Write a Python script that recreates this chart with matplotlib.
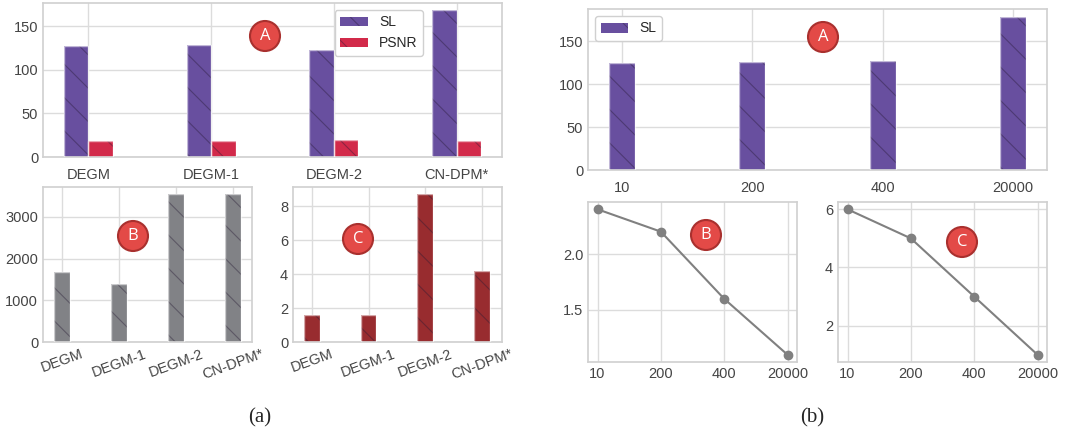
import numpy as np
import matplotlib
matplotlib.use("Agg")
import matplotlib.pyplot as plt
import seaborn as sns

# (a) method comparison
methods = ["DEGM", "DEGM-1", "DEGM-2", "CN-DPM*"]
sl_a = [127, 128.5, 123, 168]
psnr_a = [18.5, 18, 19, 18.5]
cost_b = [1680, 1400, 3540, 3540]
cost_c = [1.6, 1.6, 8.7, 4.2]

# (b) threshold study
sizes = ["10", "200", "400", "20000"]
sl_b = [124.5, 125.5, 127, 178.5]
curve_b = [2.4, 2.2, 1.6, 1.1]
curve_c = [6, 5, 3, 1]

sns.set_style("whitegrid")
plt.rcParams['font.family'] = ['Liberation Sans', 'DejaVu Sans']
plt.rcParams['hatch.linewidth'] = 0.8

W, H = 1083, 430
fig = plt.figure(figsize=(W / 100, H / 100), dpi=100)


def add_ax(x0, y0, x1, y1):
    # pixel box -> figure fraction
    return fig.add_axes([x0 / W, 1 - y1 / H, (x1 - x0) / W, (y1 - y0) / H])


def hatched_bar(ax, x, h, w, color, label=None):
    ax.bar(x, h, w, color=color, edgecolor=(0.15, 0.1, 0.2, 0.4), linewidth=0,
           hatch='\\', label=label, zorder=2)
    ax.bar(x, h, w, fill=False, edgecolor=(1, 1, 1, 0.6), linewidth=1, zorder=3)


def style(ax):
    ax.tick_params(labelsize=10.5, colors='#444444', length=0)
    for s in ax.spines.values():
        s.set_color('#d0d0d0')
        s.set_linewidth(1.2)
    ax.grid(color='#dcdcdc', linewidth=1)
    ax.set_axisbelow(True)


def badge(px, py, s):
    fig.text(px / W, 1 - py / H, s, ha='center', va='center', color='white',
             fontsize=12, family=['Open Sans', 'DejaVu Sans'],
             bbox=dict(boxstyle='circle,pad=0.42', fc='#e34a47', ec='#a9302e', lw=1.5))


purple = '#684f9f'
crimson = '#d22a4a'
gray = '#818286'
darkred = '#982c2f'

x = np.arange(len(methods))

# (a) A
ax = add_ax(43, 3, 502, 157)
hatched_bar(ax, x - 0.1, sl_a, 0.2, purple, 'SL')
hatched_bar(ax, x + 0.1, psnr_a, 0.2, crimson, 'PSNR')
ax.set_xticks(x)
ax.set_xticklabels(methods)
style(ax)
ax.tick_params(axis='x', pad=8)
ax.legend(loc='upper right', bbox_to_anchor=(0.828, 0.955), borderaxespad=0,
          fontsize=10, frameon=True, edgecolor='#d0d0d0', framealpha=1)

# (a) B
ax = add_ax(43, 187, 252, 342)
hatched_bar(ax, x, cost_b, 0.28, gray)
ax.set_xticks(x)
ax.set_xticklabels(methods, rotation=20)
ax.set_xlim(-0.33, 3.33)
style(ax)

# (a) C
ax = add_ax(293, 187, 502, 342)
hatched_bar(ax, x, cost_c, 0.28, darkred)
ax.set_xticks(x)
ax.set_xticklabels(methods, rotation=20)
ax.set_xlim(-0.33, 3.35)
style(ax)

# (b) A
xs = np.arange(len(sizes))
ax = add_ax(588, 9, 1047, 170)
hatched_bar(ax, xs, sl_b, 0.2, purple, 'SL')
ax.set_xticks(xs)
ax.set_xticklabels(sizes)
ax.set_yticks([0, 50, 100, 150])
style(ax)
ax.tick_params(axis='x', pad=8)
ax.legend(loc='upper left', fontsize=10, frameon=True, edgecolor='#d0d0d0', framealpha=1)

# (b) B
ax = add_ax(588, 202, 797, 362)
ax.plot(xs, curve_b, color='#808080', marker='o', markersize=6, linewidth=1.5)
ax.set_xticks(xs)
ax.set_xticklabels(sizes)
ax.set_yticks([1.5, 2.0])
style(ax)

# (b) C
ax = add_ax(838, 202, 1047, 362)
ax.plot(xs, curve_c, color='#808080', marker='o', markersize=6, linewidth=1.5)
ax.set_xticks(xs)
ax.set_xticklabels(sizes)
ax.set_yticks([2, 4, 6])
style(ax)

badge(265, 36, 'A')
badge(133, 236, 'B')
badge(358, 239, 'C')
badge(823, 37, 'A')
badge(706, 235, 'B')
badge(962, 242, 'C')

fig.text(260 / W, 1 - 418 / H, '(a)', ha='center', va='center', fontsize=15,
         family=['Liberation Serif', 'DejaVu Serif'])
fig.text(812 / W, 1 - 418 / H, '(b)', ha='center', va='center', fontsize=15,
         family=['Liberation Serif', 'DejaVu Serif'])

fig.savefig("out.png", dpi=100)
